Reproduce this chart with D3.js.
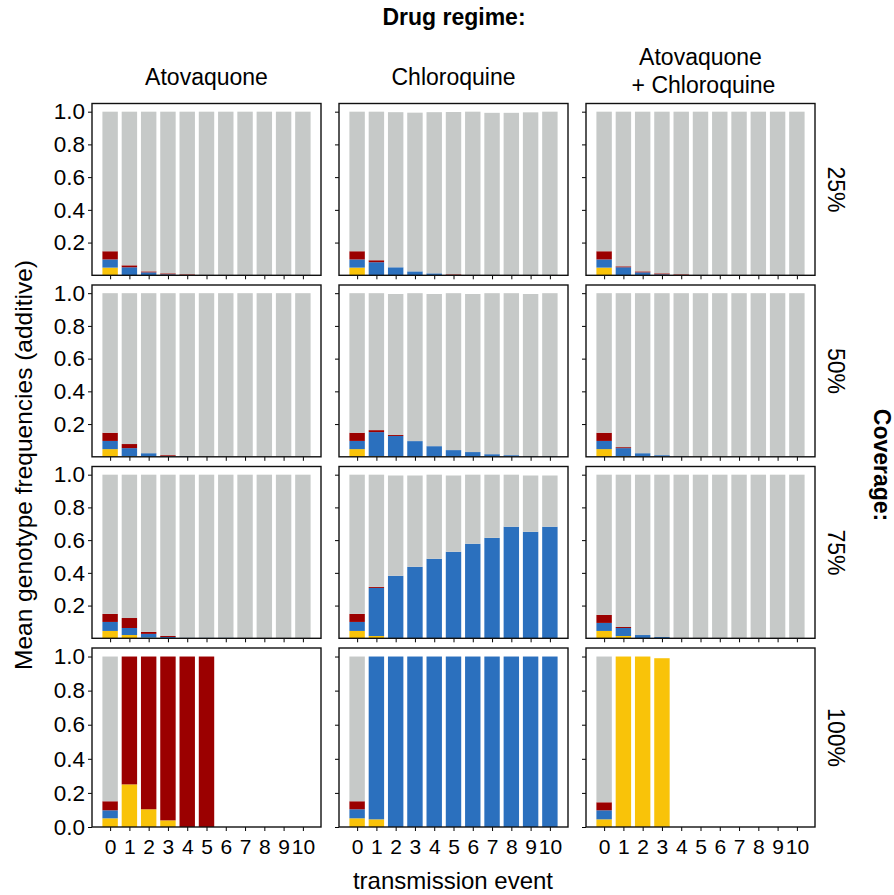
<!DOCTYPE html>
<html>
<head>
<meta charset="utf-8">
<script src="https://cdn.jsdelivr.net/npm/d3@7"></script>
<style>
  body { margin: 0; background: #fff; }
  text { font-family: "Liberation Sans", Arial, sans-serif; fill: #000; }
</style>
</head>
<body>
<div id="chart"></div>
<script>
// ---- DATA ----
var drugs = ["Atovaquone", "Chloroquine", "Atovaquone\n+ Chloroquine"];
var coverages = ["25%", "50%", "75%", "100%"];
var events = [0, 1, 2, 3, 4, 5, 6, 7, 8, 9, 10];
var genotypes = ["yellow", "blue", "red", "grey"];   // stacking order, bottom -> top
var genoColors = ["#f9c309", "#2b70be", "#9b0000", "#c6c9c8"];
var yTicksTop = [0.2, 0.4, 0.6, 0.8, 1.0];
var yTicksBottom = [0.0, 0.2, 0.4, 0.6, 0.8, 1.0];

// each entry: [yellow, blue, red, grey] per transmission event
var atq25 = [[0.047,0.05,0.05,0.853],[0,0.049,0.012,0.939],[0,0.018,0.006,0.976],[0,0.006,0.006,0.988],[0,0,0.006,0.994],[0,0,0,1],[0,0,0,1],[0,0,0,1],[0,0,0,1],[0,0,0,1],[0,0,0,1]];
var chl25 = [[0.047,0.05,0.05,0.853],[0,0.08,0.012,0.908],[0,0.049,0,0.948],[0,0.024,0,0.97],[0,0.012,0,0.985],[0,0,0.006,0.992],[0,0,0,1],[0,0,0,0.993],[0,0,0,0.993],[0,0,0,0.996],[0,0,0,1]];
var both25 = [[0.047,0.05,0.05,0.853],[0,0.049,0.006,0.945],[0,0.018,0.006,0.976],[0,0.006,0.006,0.988],[0,0,0.006,0.994],[0,0,0,1],[0,0,0,1],[0,0,0,1],[0,0,0,1],[0,0,0,1],[0,0,0,1]];
var atq50 = [[0.047,0.05,0.05,0.853],[0.004,0.049,0.025,0.922],[0,0.022,0,0.978],[0,0.004,0.006,0.99],[0,0.004,0,0.996],[0,0,0,1],[0,0,0,1],[0,0,0,1],[0,0,0,1],[0,0,0,1],[0,0,0,1]];
var chl50 = [[0.047,0.05,0.05,0.853],[0.004,0.147,0.012,0.837],[0,0.127,0.006,0.862],[0,0.096,0,0.904],[0,0.065,0,0.93],[0,0.041,0,0.959],[0,0.029,0,0.966],[0,0.016,0,0.984],[0,0.01,0,0.99],[0,0.004,0,0.991],[0,0.004,0,0.996]];
var both50 = [[0.047,0.05,0.05,0.853],[0.004,0.049,0.006,0.941],[0,0.022,0,0.978],[0,0.01,0,0.99],[0,0.004,0,0.996],[0,0,0,1],[0,0,0,1],[0,0,0,1],[0,0,0,1],[0,0,0,1],[0,0,0,1]];
var atq75 = [[0.045,0.055,0.049,0.851],[0.02,0.043,0.061,0.876],[0.004,0.023,0.012,0.961],[0,0.008,0.006,0.986],[0,0.004,0,0.996],[0,0.004,0,0.996],[0,0.004,0,0.996],[0,0,0,1],[0,0,0,1],[0,0,0,1],[0,0,0,1]];
var chl75 = [[0.045,0.055,0.049,0.851],[0.014,0.294,0.006,0.686],[0.002,0.38,0,0.613],[0,0.437,0,0.558],[0,0.486,0,0.514],[0,0.529,0,0.466],[0,0.578,0,0.422],[0,0.614,0,0.386],[0,0.682,0,0.318],[0,0.651,0,0.344],[0,0.682,0,0.313]];
var both75 = [[0.045,0.049,0.049,0.857],[0.014,0.049,0.006,0.931],[0,0.02,0,0.98],[0,0.008,0,0.992],[0,0,0,1],[0,0,0,1],[0,0,0,1],[0,0,0,1],[0,0,0,1],[0,0,0,1],[0,0,0,1]];
var atq100 = [[0.051,0.047,0.053,0.849],[0.25,0,0.75,0],[0.104,0,0.896,0],[0.039,0,0.961,0],[0,0,1,0],[0,0,1,0],[0,0,0,0],[0,0,0,0],[0,0,0,0],[0,0,0,0],[0,0,0,0]];
var chl100 = [[0.051,0.053,0.047,0.849],[0.045,0.955,0,0],[0,1,0,0],[0,1,0,0],[0,1,0,0],[0,1,0,0],[0,1,0,0],[0,1,0,0],[0,1,0,0],[0,1,0,0],[0,1,0,0]];
var both100 = [[0.045,0.053,0.047,0.855],[1,0,0,0],[1,0,0,0],[0.99,0,0,0],[0,0,0,0],[0,0,0,0],[0,0,0,0],[0,0,0,0],[0,0,0,0],[0,0,0,0],[0,0,0,0]];

var panels = [
  [atq25, chl25, both25],
  [atq50, chl50, both50],
  [atq75, chl75, both75],
  [atq100, chl100, both100]
];

// ---- LAYOUT ----
var W = 894, H = 895;
var colX = [92, 339, 586];
var panelW = 229;
var rowY = [103.5, 285, 466.5, 648];
var rowH = [171.8, 171.8, 171.8, 179];
var yTickFont = "22.5px", xTickFont = "21px", labelFont = "23px";

var svg = d3.select("#chart").append("svg")
  .attr("width", W).attr("height", H);

var x = d3.scaleLinear().domain([-0.94, 10.94]).range([0, panelW]);
var barW = x(0.8) - x(0);

var stack = d3.stack()
  .keys(d3.range(genotypes.length))
  .value(function (d, k) { return d[k]; });

panels.forEach(function (row, r) {
  var y = d3.scaleLinear().domain([0, 1.05]).range([rowH[r], 0]);
  var last = r === panels.length - 1;

  row.forEach(function (data, c) {
    var g = svg.append("g")
      .attr("transform", "translate(" + colX[c] + "," + rowY[r] + ")");

    var series = stack(data);
    g.selectAll(".layer").data(series).enter().append("g")
      .attr("class", "layer")
      .attr("fill", function (d, i) { return genoColors[i]; })
      .selectAll("rect").data(function (d) { return d; }).enter().append("rect")
      .attr("x", function (d, i) { return x(events[i]) - barW / 2; })
      .attr("width", barW)
      .attr("y", function (d) { return y(d[1]); })
      .attr("height", function (d) { return Math.max(0, y(d[0]) - y(d[1])); });

    // y axis
    var yAxis = d3.axisLeft(y).tickValues(last ? yTicksBottom : yTicksTop)
      .tickSize(4).tickPadding(3)
      .tickFormat(c === 0 ? d3.format(".1f") : "");
    var ya = g.append("g").call(yAxis);
    ya.select(".domain").remove();
    ya.selectAll("text").style("font-size", yTickFont).attr("fill", "#000");

    // x axis
    var xAxis = d3.axisBottom(x).tickValues(events)
      .tickSize(4).tickPadding(8)
      .tickFormat(last ? d3.format("d") : "");
    var xa = g.append("g").attr("transform", "translate(0," + rowH[r] + ")").call(xAxis);
    xa.select(".domain").remove();
    xa.selectAll("text").style("font-size", xTickFont).attr("fill", "#000");

    // panel border
    g.append("rect")
      .attr("width", panelW).attr("height", rowH[r])
      .attr("fill", "none").attr("stroke", "#111").attr("stroke-width", 1.4);
  });

  // row strip label
  svg.append("text")
    .attr("transform", "translate(828," + (rowY[r] + rowH[r] / 2) + ") rotate(90)")
    .attr("text-anchor", "middle")
    .style("font-size", labelFont)
    .text(coverages[r]);
});

// column strip labels
drugs.forEach(function (name, c) {
  var lines = name.split("\n");
  var cx = colX[c] + panelW / 2;
  var t = svg.append("text").attr("text-anchor", "middle").style("font-size", labelFont);
  if (lines.length === 1) {
    t.attr("x", cx).attr("y", 85).text(name);
  } else {
    lines.forEach(function (l, i) {
      t.append("tspan").attr("x", cx + (i === 1 ? 3 : 0)).attr("y", 65 + i * 28).text(l);
    });
  }
});

// titles
svg.append("text").attr("x", 454).attr("y", 25).attr("text-anchor", "middle")
  .style("font-size", "23px").style("font-weight", "bold").text("Drug regime:");

svg.append("text")
  .attr("transform", "translate(874,465) rotate(90)")
  .attr("text-anchor", "middle")
  .style("font-size", "23px").style("font-weight", "bold").text("Coverage:");

svg.append("text")
  .attr("transform", "translate(32,465) rotate(-90)")
  .attr("text-anchor", "middle")
  .style("font-size", "24.5px").text("Mean genotype frequencies (additive)");

svg.append("text").attr("x", 453).attr("y", 889).attr("text-anchor", "middle")
  .style("font-size", "24px").text("transmission event");
</script>
</body>
</html>
